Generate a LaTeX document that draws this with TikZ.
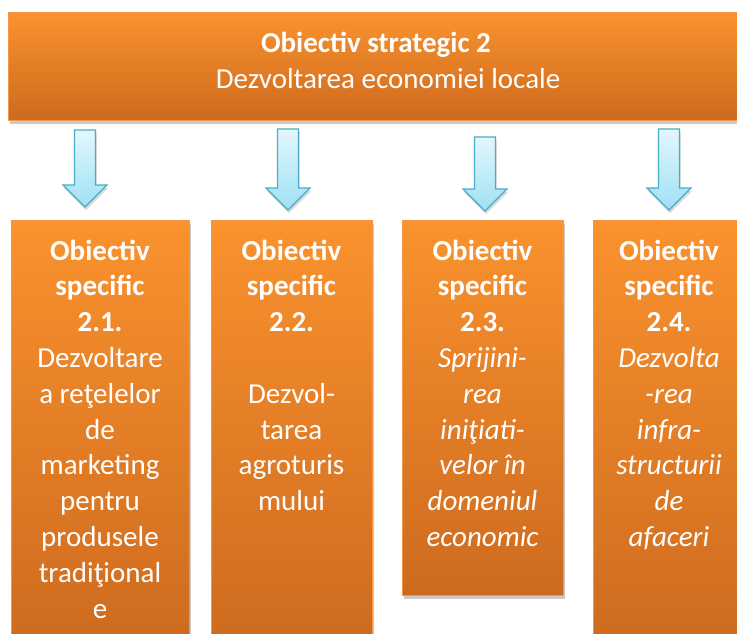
\documentclass[tikz,border=0pt]{standalone}
\usepackage{fontspec}
\setmainfont{Carlito}
\usetikzlibrary{shadows}
\definecolor{orTop}{RGB}{250,146,46}
\definecolor{orBot}{RGB}{205,106,30}
\definecolor{orEdge}{RGB}{246,150,70}
\definecolor{arTop}{RGB}{226,247,252}
\definecolor{arBot}{RGB}{160,224,245}
\definecolor{arEdge}{RGB}{75,172,198}
\tikzset{
  obox/.style={rectangle, draw=orEdge, line width=0.8pt, top color=orTop, bottom color=orBot,
    drop shadow={shadow xshift=1.5pt, shadow yshift=-4pt, opacity=0.3, fill=black!70},
    inner sep=0pt, anchor=north west},
  otext/.style={text=white, align=center, font=\fontsize{29}{35.8}\selectfont, anchor=base, inner sep=0pt},
  barrow/.style={draw=arEdge, line width=1.2pt, top color=arTop, bottom color=arBot,
    drop shadow={shadow xshift=1pt, shadow yshift=-3pt, opacity=0.25, fill=black!60}},
}
\newcommand\myblockarrow[4]{%
  \draw[barrow] (#1-10.5,#2) -- (#1+10.5,#2) -- (#1+10.5,#3) -- (#1+22,#3) -- (#1,#4) -- (#1-22,#3) -- (#1-10.5,#3) -- cycle;}
\begin{document}
\begin{tikzpicture}[x=1pt,y=-1pt]
\useasboundingbox (0,0) rectangle (737,633);
\clip (0,0) rectangle (737,633);
% top box
\node[obox, minimum width=760pt, minimum height=108pt] (top) at (8,12) {};
\node[otext] (title) at (376,52) {\textbf{Obiectiv strategic 2}};
\node[otext] (subtitle) at (388,88) {Dezvoltarea economiei locale};
% arrows
\myblockarrow{85}{130}{185}{207}
\myblockarrow{288}{129}{188}{210}
\myblockarrow{485}{137}{189}{211}
\myblockarrow{669}{129}{188}{210}
% boxes
\node[obox, minimum width=178pt, minimum height=425pt] (b1) at (11,220) {};
\node[obox, minimum width=161pt, minimum height=425pt] (b2) at (211,220) {};
\node[obox, minimum width=161pt, minimum height=375pt] (b3) at (402,220) {};
\node[obox, minimum width=152pt, minimum height=425pt] (b4) at (593,220) {};
% texts (anchor = baseline of the last line)
\node[otext] (t1) at (100,618) {\textbf{Obiectiv}\\\textbf{specific}\\\textbf{2.1.}\\Dezvoltare\\a reţelelor\\de\\marketing\\pentru\\produsele\\tradiţional\\e};
\node[otext] (t2) at (291.5,510.6) {\textbf{Obiectiv}\\\textbf{specific}\\\textbf{2.2.}\\[35.8pt]Dezvol-\\tarea\\agroturis\\mului};
\node[otext] (t3) at (482.5,546.4) {\textbf{Obiectiv}\\\textbf{specific}\\\textbf{2.3.}\\\textit{Sprijini-}\\\textit{rea}\\\textit{iniţiati-}\\\textit{velor în}\\\textit{domeniul}\\\textit{economic}};
\node[otext] (t4) at (669,546.4) {\textbf{Obiectiv}\\\textbf{specific}\\\textbf{2.4.}\\\textit{Dezvolta}\\\textit{-rea}\\\textit{infra-}\\\textit{structurii}\\\textit{de}\\\textit{afaceri}};
\end{tikzpicture}
\end{document}
